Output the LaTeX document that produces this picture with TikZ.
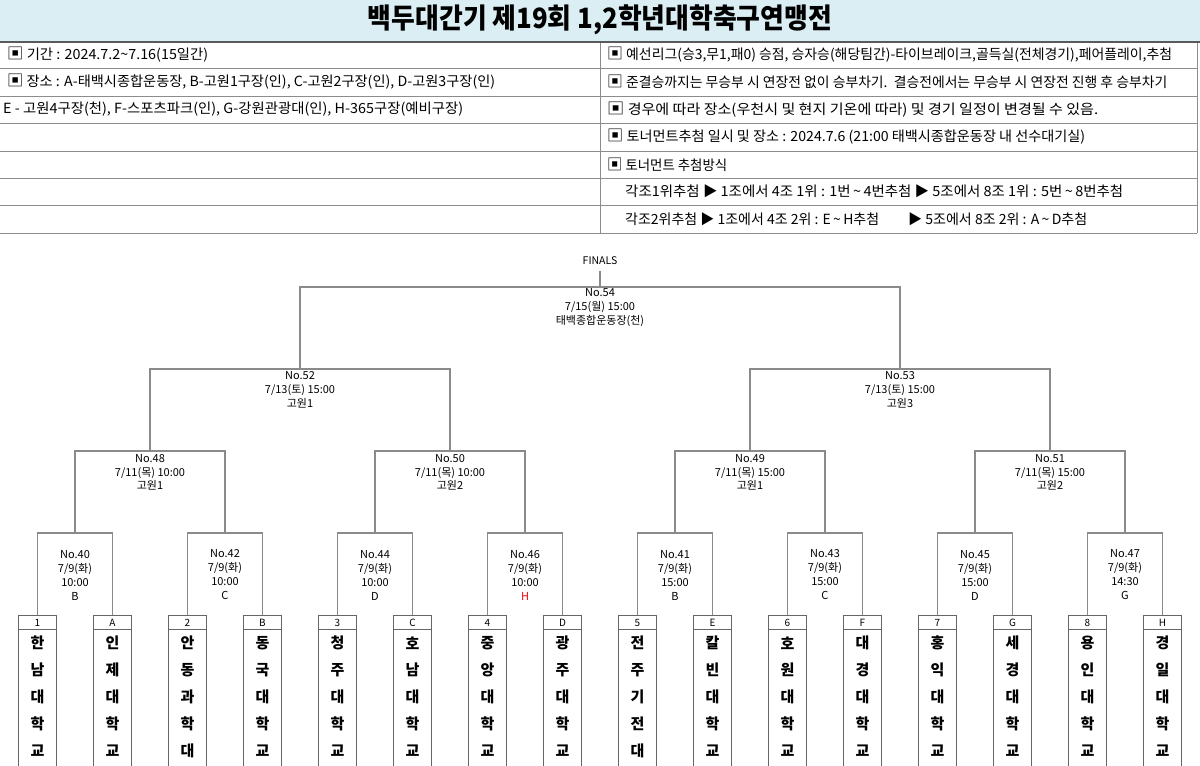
\documentclass[tikz,border=0pt]{standalone}
\usepackage{fontspec}
\setmainfont{Noto Sans CJK KR}
\usepackage{graphicx}
\definecolor{titlebg}{HTML}{DAEEF3}
\definecolor{gridc}{HTML}{8C8C8C}
\definecolor{thickc}{HTML}{5A5A5A}
\definecolor{brk}{HTML}{8A8A8A}
\definecolor{boxc}{HTML}{666666}
\newcommand\fitw[2]{\resizebox{#1pt}{\height}{#2}}
\newcommand\tl{\textasciitilde}
\newcommand\sqm{{\fontsize{16}{16}\selectfont ▣}}
\begin{document}
\begin{tikzpicture}[x=1pt,y=-1pt,
  rowtext/.style={anchor=west, inner sep=0pt, font=\fontsize{14}{16}\selectfont},
  mtext/.style={align=center, inner sep=0pt, font=\fontsize{11}{14}\selectfont},
  mtextb/.style={align=center, inner sep=0pt, font=\fontsize{11}{13.5}\selectfont},
  labcell/.style={draw=boxc, line width=1pt, fill=white, minimum width=37.5pt, minimum height=13.5pt, inner sep=0pt, font=\fontsize{10}{12}\selectfont},
  namecell/.style={draw=boxc, line width=1pt, minimum width=37.5pt, minimum height=140pt, inner sep=0pt},
  namechar/.style={inner sep=0pt, font=\bfseries\fontsize{15}{17}\selectfont},
  conn/.style={draw=brk, line width=1.1pt}
]
\useasboundingbox (0,0) rectangle (1200,766);
% ---------- header table ----------
\fill[titlebg] (0,0) rectangle (1200,42);
\node[inner sep=0pt, font=\bfseries\fontsize{28}{32}\selectfont] (title) at (600,20) {\fitw{464}{백두대간기 제19회 1,2학년대학축구연맹전}};
\foreach \y in {68,96,123,151,178,205,233} \draw[gridc, line width=1pt] (0,\y) -- (1197,\y);
\draw[gridc, line width=1pt] (600,42) -- (600,233);
\draw[gridc, line width=1pt] (1197,42) -- (1197,233);
\draw[thickc, line width=2pt] (0,42) -- (1200,42);

\node[rowtext] (r1) at (7,55) {\fitw{201}{\sqm{} 기간 : 2024.7.2\tl7.16(15일간)}};
\node[rowtext] (r2) at (7,82) {\fitw{488}{\sqm{} 장소 : A-태백시종합운동장, B-고원1구장(인), C-고원2구장(인), D-고원3구장(인)}};
\node[rowtext] (r3) at (3,109.5) {\fitw{460}{E - 고원4구장(천), F-스포츠파크(인), G-강원관광대(인), H-365구장(예비구장)}};
\node[rowtext] (r4) at (607,55) {\fitw{565}{\sqm{} 예선리그(승3,무1,패0) 승점, 승자승(해당팀간)-타이브레이크,골득실(전체경기),페어플레이,추첨}};
\node[rowtext] (r5) at (607,82) {\fitw{560}{\sqm{} 준결승까지는 무승부 시 연장전 없이 승부차기.\ \ 결승전에서는 무승부 시 연장전 진행 후 승부차기}};
\node[rowtext] (r6) at (607,109.5) {\fitw{491}{\sqm{} 경우에 따라 장소(우천시 및 현지 기온에 따라) 및 경기 일정이 변경될 수 있음.}};
\node[rowtext] (r7) at (607,137) {\fitw{478}{\sqm{} 토너먼트추첨 일시 및 장소 : 2024.7.6 (21:00 태백시종합운동장 내 선수대기실)}};
\node[rowtext] (r8) at (607,164.5) {\fitw{120}{\sqm{} 토너먼트 추첨방식}};
\node[rowtext] (r9) at (625,191.5) {\fitw{498}{각조1위추첨 ▶ 1조에서 4조 1위 : 1번\,\tl\,4번추첨 ▶ 5조에서 8조 1위 : 5번\,\tl\,8번추첨}};
\node[rowtext] (r10a) at (625,219) {\fitw{254}{각조2위추첨 ▶ 1조에서 4조 2위 : E\,\tl\,H추첨}};
\node[rowtext] (r10b) at (908,219) {\fitw{179}{▶ 5조에서 8조 2위 : A\,\tl\,D추첨}};

% ---------- teams ----------
\foreach \i/\lab/\a/\b/\c/\d/\e in {
  0/1/한/남/대/학/교, 1/A/인/제/대/학/교, 2/2/안/동/과/학/대, 3/B/동/국/대/학/교,
  4/3/청/주/대/학/교, 5/C/호/남/대/학/교, 6/4/중/앙/대/학/교, 7/D/광/주/대/학/교,
  8/5/전/주/기/전/대, 9/E/칼/빈/대/학/교, 10/6/호/원/대/학/교, 11/F/대/경/대/학/교,
  12/7/홍/익/대/학/교, 13/G/세/경/대/학/교, 14/8/용/인/대/학/교, 15/H/경/일/대/학/교}{
  \node[namecell] (nm\i) at ({37.5+75*\i},699) {};
  \node[labcell] (lab\i) at ({37.5+75*\i},622.5) {\lab};
  \node[namechar] (ch\i a) at ({37.5+75*\i},643) {\a};
  \node[namechar] (ch\i b) at ({37.5+75*\i},670) {\b};
  \node[namechar] (ch\i c) at ({37.5+75*\i},697) {\c};
  \node[namechar] (ch\i d) at ({37.5+75*\i},724) {\d};
  \node[namechar] (ch\i e) at ({37.5+75*\i},751) {\e};
}

% ---------- junctions ----------
\coordinate (j40) at (75,533);   \coordinate (j42) at (225,533);
\coordinate (j44) at (375,533);  \coordinate (j46) at (525,533);
\coordinate (j41) at (675,533);  \coordinate (j43) at (825,533);
\coordinate (j45) at (975,533);  \coordinate (j47) at (1125,533);
\coordinate (j48) at (150,451);  \coordinate (j50) at (450,451);
\coordinate (j49) at (750,451);  \coordinate (j51) at (1050,451);
\coordinate (j52) at (300,369);  \coordinate (j53) at (900,369);
\coordinate (j54) at (600,287);

% ---------- match labels ----------
\node[mtext] (m40) at (75,575) {No.40\\7/9(화)\\10:00\\B};
\node[mtext] (m42) at (225,575) {No.42\\7/9(화)\\10:00\\C};
\node[mtext] (m44) at (375,575) {No.44\\7/9(화)\\10:00\\D};
\node[mtext] (m46) at (525,575) {No.46\\7/9(화)\\10:00\\\textcolor{red}{H}};
\node[mtext] (m41) at (675,575) {No.41\\7/9(화)\\15:00\\B};
\node[mtext] (m43) at (825,575) {No.43\\7/9(화)\\15:00\\C};
\node[mtext] (m45) at (975,575) {No.45\\7/9(화)\\15:00\\D};
\node[mtext] (m47) at (1125,575) {No.47\\7/9(화)\\14:30\\G};
\node[mtextb] (m48) at (150,472.5) {No.48\\7/11(목) 10:00\\고원1};
\node[mtextb] (m50) at (450,472.5) {No.50\\7/11(목) 10:00\\고원2};
\node[mtextb] (m49) at (750,472.5) {No.49\\7/11(목) 15:00\\고원1};
\node[mtextb] (m51) at (1050,472.5) {No.51\\7/11(목) 15:00\\고원2};
\node[mtext] (m52) at (300,390) {No.52\\7/13(토) 15:00\\고원1};
\node[mtext] (m53) at (900,390) {No.53\\7/13(토) 15:00\\고원3};
\node[mtext] (m54) at (600,308) {No.54\\7/15(월) 15:00\\태백종합운동장(천)};
\node[inner sep=0pt, font=\fontsize{10.5}{12}\selectfont] (finals) at (600,260.5) {FINALS};

% ---------- connectors ----------
\draw[conn] (lab0.north) |- (j40);  \draw[conn] (lab1.north) |- (j40);
\draw[conn] (lab2.north) |- (j42);  \draw[conn] (lab3.north) |- (j42);
\draw[conn] (lab4.north) |- (j44);  \draw[conn] (lab5.north) |- (j44);
\draw[conn] (lab6.north) |- (j46);  \draw[conn] (lab7.north) |- (j46);
\draw[conn] (lab8.north) |- (j41);  \draw[conn] (lab9.north) |- (j41);
\draw[conn] (lab10.north) |- (j43); \draw[conn] (lab11.north) |- (j43);
\draw[conn] (lab12.north) |- (j45); \draw[conn] (lab13.north) |- (j45);
\draw[conn] (lab14.north) |- (j47); \draw[conn] (lab15.north) |- (j47);
\draw[conn] (j40) |- (j48); \draw[conn] (j42) |- (j48);
\draw[conn] (j44) |- (j50); \draw[conn] (j46) |- (j50);
\draw[conn] (j41) |- (j49); \draw[conn] (j43) |- (j49);
\draw[conn] (j45) |- (j51); \draw[conn] (j47) |- (j51);
\draw[conn] (j48) |- (j52); \draw[conn] (j50) |- (j52);
\draw[conn] (j49) |- (j53); \draw[conn] (j51) |- (j53);
\draw[conn] (j52) |- (j54); \draw[conn] (j53) |- (j54);
\draw[conn] ([yshift=-6pt]finals.south) -- (j54);
\end{tikzpicture}
\end{document}
